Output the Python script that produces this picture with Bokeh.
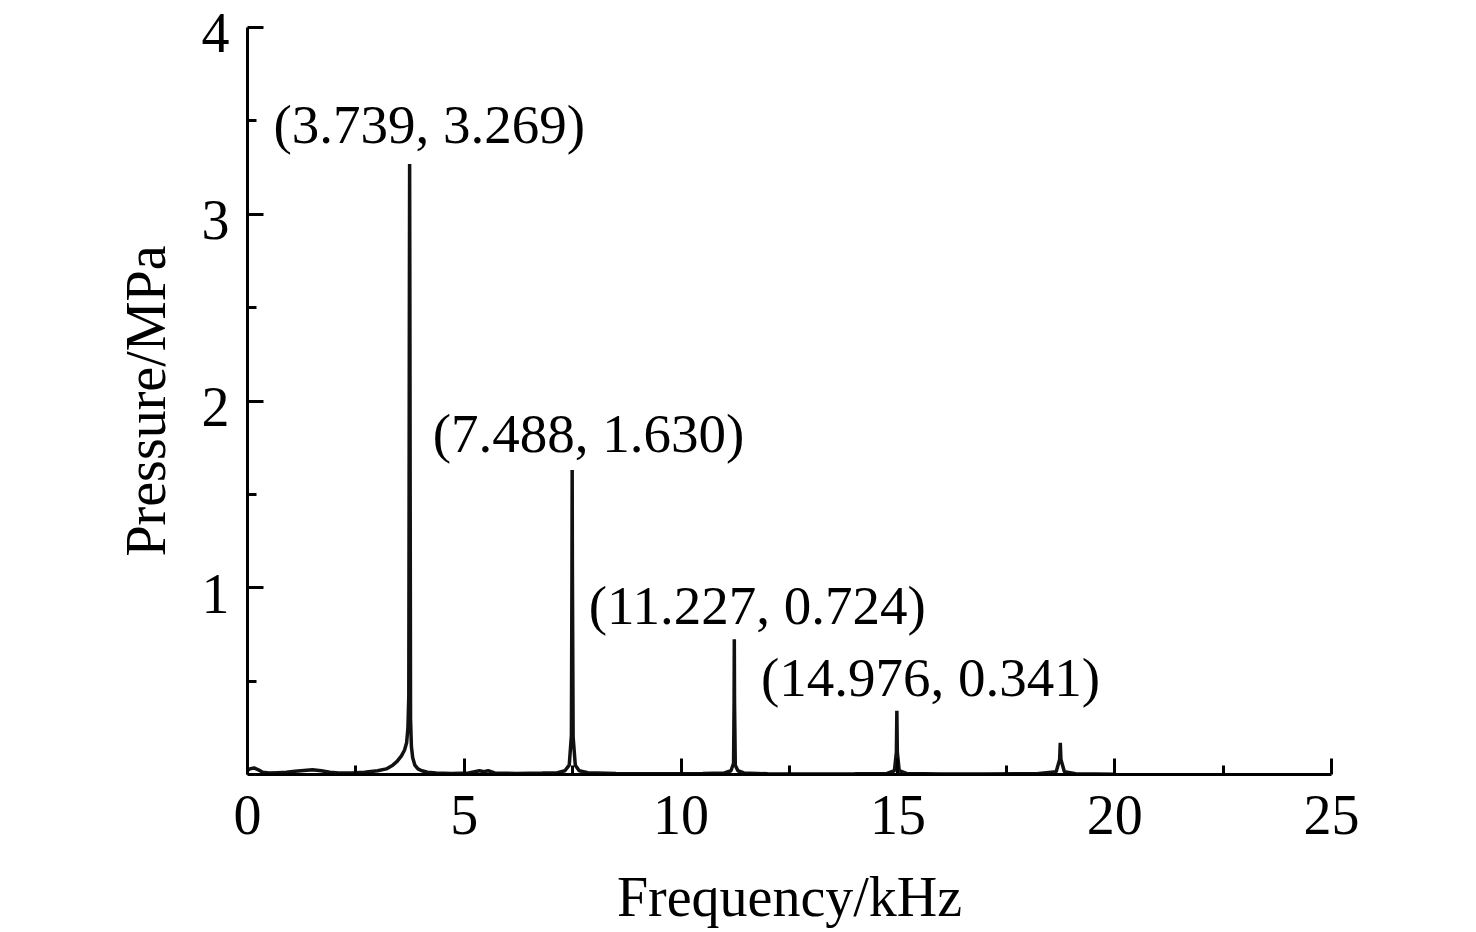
from bokeh.plotting import figure
from bokeh.models import FixedTicker, Range1d, ColumnDataSource, LinearAxis
from bokeh.core.properties import value
from bokeh.embed import file_html
from bokeh.resources import INLINE

# ---- spectrum data ----
freq_khz = [0.00, 0.05, 0.15, 0.25, 0.35, 0.50, 0.70, 0.90, 1.10, 1.30, 1.50, 1.70, 1.90, 2.10, 2.40, 2.70,
            3.00, 3.20, 3.35, 3.45, 3.55, 3.62, 3.67, 3.70, 3.72, 3.733, 3.739, 3.745, 3.76, 3.78, 3.81, 3.86,
            3.93, 4.02, 4.15, 4.35, 4.70, 5.10, 5.35, 5.45, 5.55, 5.70, 6.20, 6.80,
            7.15, 7.32, 7.42, 7.47, 7.483, 7.488, 7.493, 7.51, 7.56, 7.65, 7.85, 8.50, 9.50, 10.50, 11.00,
            11.15, 11.21, 11.222, 11.227, 11.232, 11.25, 11.31, 11.45, 12.00, 13.00, 14.00, 14.75,
            14.92, 14.965, 14.976, 14.987, 15.03, 15.20, 16.00, 17.00, 18.20,
            18.65, 18.73, 18.745, 18.76, 18.84, 19.10, 20.00]
pressure_mpa = [0.020, 0.030, 0.035, 0.025, 0.012, 0.008, 0.010, 0.012, 0.018, 0.022, 0.025, 0.020, 0.012, 0.008, 0.008, 0.012,
                0.020, 0.030, 0.050, 0.070, 0.100, 0.130, 0.170, 0.250, 0.420, 2.520, 3.269, 2.520, 0.300, 0.150, 0.090, 0.050,
                0.030, 0.020, 0.012, 0.008, 0.006, 0.008, 0.020, 0.015, 0.020, 0.008, 0.006, 0.008,
                0.010, 0.020, 0.050, 0.210, 1.100, 1.630, 1.100, 0.200, 0.050, 0.020, 0.010, 0.005, 0.004, 0.005, 0.008,
                0.020, 0.060, 0.390, 0.724, 0.390, 0.050, 0.020, 0.008, 0.004, 0.003, 0.004, 0.006,
                0.020, 0.120, 0.341, 0.120, 0.020, 0.006, 0.003, 0.003, 0.004,
                0.015, 0.080, 0.170, 0.080, 0.015, 0.004, 0.002]

# ---- annotated peaks ----
peak_freq = [3.739, 7.488, 11.227, 14.976]
peak_pressure = [3.269, 1.630, 0.724, 0.341]
label_x = [0.60, 4.27, 7.87, 11.84]
label_y = [3.48, 1.825, 0.905, 0.52]

# ---- axes ----
x_major = [0, 5, 10, 15, 20, 25]
x_minor = [2.5, 7.5, 12.5, 17.5, 22.5]
y_major = [1, 2, 3, 4]
y_minor = [0.5, 1.5, 2.5, 3.5]
y_tick_labels = ["1", "2", "3", "4"]
y_label_drop = 0.032   # tick labels sit a little below their ticks, as in the reference

FONT = "Liberation Serif"

p = figure(width=1460, height=931, output_backend="svg", toolbar_location=None,
           x_range=Range1d(0, 25), y_range=Range1d(0, 4), y_axis_location=None,
           min_border_left=247, min_border_right=129, min_border_top=27, min_border_bottom=157)
p.outline_line_color = None
p.grid.visible = False
for g in p.grid:
    g.grid_line_color = None
p.background_fill_color = "white"
p.border_fill_color = "white"

p.line(freq_khz, pressure_mpa, line_color="#111111", line_width=3.5)

labels = ["(%.3f, %.3f)" % (f, v) for f, v in zip(peak_freq, peak_pressure)]
src = ColumnDataSource(dict(x=label_x, y=label_y, t=labels))
p.text(x="x", y="y", text="t", source=src, text_font=value(FONT), text_font_size="55px",
       text_color="black", text_align="left", text_baseline="middle")

ax = p.xaxis[0]
ax.ticker = FixedTicker(ticks=x_major, minor_ticks=x_minor)
ax.axis_line_width = 3
ax.axis_line_color = "black"
ax.major_tick_line_width = 3
ax.minor_tick_line_width = 3
ax.major_tick_line_color = "black"
ax.minor_tick_line_color = "black"
ax.major_tick_in = 16
ax.major_tick_out = 0
ax.minor_tick_in = 9
ax.minor_tick_out = 0
ax.major_label_text_font = FONT
ax.major_label_text_font_size = "56px"
ax.major_label_text_color = "black"
ax.major_label_standoff = 21
ax.axis_label = "Frequency/kHz"
ax.axis_label_text_font = FONT
ax.axis_label_text_font_size = "56px"
ax.axis_label_text_font_style = "normal"
ax.axis_label_text_color = "black"
ax.axis_label_standoff = 29

# y axis line with the long ticks (whole units)
y_line = LinearAxis(ticker=FixedTicker(ticks=[], minor_ticks=y_major),
                    axis_line_width=3, axis_line_color="black",
                    minor_tick_in=16, minor_tick_out=0, minor_tick_line_width=3,
                    minor_tick_line_color="black", major_tick_line_color=None)
# short ticks (half units)
y_half = LinearAxis(ticker=FixedTicker(ticks=[], minor_ticks=y_minor),
                    axis_line_color=None,
                    minor_tick_in=9, minor_tick_out=0, minor_tick_line_width=3,
                    minor_tick_line_color="black", major_tick_line_color=None)
# tick labels and title
label_ticks = [v - y_label_drop for v in y_major]
y_text = LinearAxis(ticker=FixedTicker(ticks=label_ticks, minor_ticks=[]),
                    major_label_overrides={t: s for t, s in zip(label_ticks, y_tick_labels)},
                    axis_line_color=None, major_tick_line_color=None, minor_tick_line_color=None,
                    major_tick_in=0, major_tick_out=0, minor_tick_in=0, minor_tick_out=0,
                    major_label_standoff=18,
                    major_label_text_font=FONT, major_label_text_font_size="56px",
                    major_label_text_color="black",
                    axis_label="Pressure/MPa", axis_label_standoff=22,
                    axis_label_text_font=FONT, axis_label_text_font_size="56px",
                    axis_label_text_font_style="normal", axis_label_text_color="black")
p.add_layout(y_line, "left")
p.add_layout(y_half, "left")
p.add_layout(y_text, "left")

open("out.html", "w").write(file_html(p, INLINE))
